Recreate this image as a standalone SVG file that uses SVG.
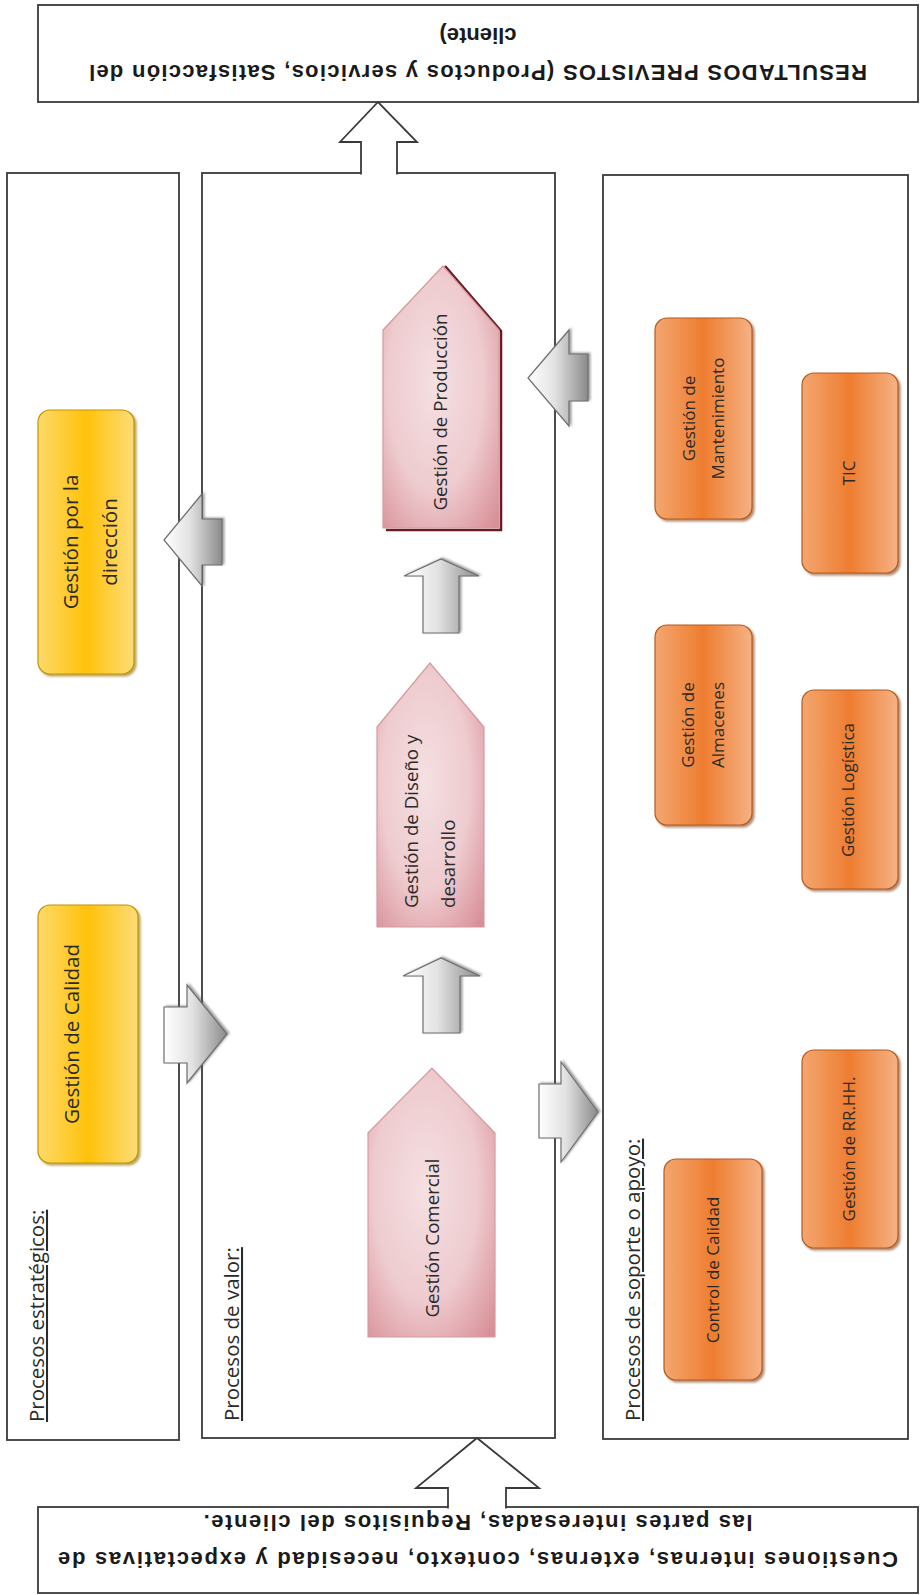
<svg xmlns="http://www.w3.org/2000/svg" width="921" height="1595" viewBox="0 0 921 1595">
<defs>
<style>
.box{fill:#ffffff;stroke:#3a3a3a;stroke-width:1.8}
.hollow{fill:#ffffff;stroke:#3a3a3a;stroke-width:1.8;stroke-linejoin:miter}
.big{font-family:"Liberation Sans",Arial,sans-serif;font-weight:bold;font-size:22px;fill:#1a1a1a;text-anchor:middle}
.lbl{font-family:"Open Sans","Noto Sans",sans-serif;font-size:20.5px;fill:#2a2a2a;text-decoration:underline}
.t-y{font-family:"Open Sans","Noto Sans",sans-serif;font-size:20.6px;fill:#2a2a2a;text-anchor:middle}
.t-p{font-family:"Open Sans","Noto Sans",sans-serif;font-size:18.7px;fill:#2a2a2a;text-anchor:middle}
.t-o{font-family:"Open Sans","Noto Sans",sans-serif;font-size:17px;fill:#2a2a2a;text-anchor:middle}
.yel{fill:url(#gY);stroke:#c39400;stroke-width:1.2;filter:url(#shY)}
.org{fill:url(#gO);stroke:#b65a1e;stroke-width:1.2;filter:url(#shO)}
.pnk{fill:url(#gP);stroke:#d49aa1;stroke-width:1.2}
.arr{fill:url(#gA);stroke:#6e6e6e;stroke-width:1.2;filter:url(#shA)}
</style>
<linearGradient id="gY" x1="0" y1="0" x2="1" y2="0">
<stop offset="0" stop-color="#fdd96a"/><stop offset="0.5" stop-color="#ffc20a"/><stop offset="1" stop-color="#fddc78"/>
</linearGradient>
<linearGradient id="gO" x1="0" y1="0" x2="1" y2="0">
<stop offset="0" stop-color="#f3a670"/><stop offset="0.5" stop-color="#ee7d30"/><stop offset="1" stop-color="#f5b285"/>
</linearGradient>
<radialGradient id="gP" cx="0.45" cy="0.45" r="0.75">
<stop offset="0" stop-color="#f5e0e2"/><stop offset="0.55" stop-color="#eecbcf"/><stop offset="1" stop-color="#d88e96"/>
</radialGradient>
<linearGradient id="gA" x1="0" y1="0" x2="1" y2="0">
<stop offset="0" stop-color="#ffffff"/><stop offset="0.45" stop-color="#e2e2e2"/><stop offset="1" stop-color="#8a8a8a"/>
</linearGradient>
<filter id="shY" x="-10%" y="-10%" width="130%" height="130%">
<feDropShadow dx="2" dy="2" stdDeviation="1" flood-color="#8a6a00" flood-opacity="0.6"/>
</filter>
<filter id="shO" x="-10%" y="-10%" width="130%" height="130%">
<feDropShadow dx="2" dy="2" stdDeviation="1" flood-color="#7a3a10" flood-opacity="0.6"/>
</filter>
<filter id="shA" x="-20%" y="-20%" width="140%" height="140%">
<feDropShadow dx="2" dy="-1" stdDeviation="0.8" flood-color="#555555" flood-opacity="0.55"/>
</filter>
</defs>

<rect width="921" height="1595" fill="#ffffff"/>

<g id="resultados">
<rect class="box" x="38" y="5" width="880" height="97"/>
<g transform="rotate(180 478 52)">
<text class="big" x="478" y="39" textLength="778" lengthAdjust="spacing">RESULTADOS PREVISTOS (Productos y servicios, Satisfacción del</text>
<text class="big" x="478" y="76">cliente)</text>
</g>
</g>

<g id="cuestiones">
<rect class="box" x="38" y="1507" width="880" height="86"/>
<g transform="rotate(180 478 1550)">
<text class="big" x="478" y="1548" textLength="840" lengthAdjust="spacing">Cuestiones internas, externas, contexto, necesidad y expectativas de</text>
<text class="big" x="478" y="1585" textLength="549" lengthAdjust="spacing">las partes interesadas, Requisitos del cliente.</text>
</g>
</g>

<g id="estrategicos">
<rect class="box" x="7" y="173" width="172" height="1267"/>
<text class="lbl" transform="translate(44 1422) rotate(-90)">Procesos estratégicos:</text>
</g>

<g id="valor">
<rect class="box" x="202" y="173" width="353" height="1265"/>
<text class="lbl" transform="translate(239 1421) rotate(-90)">Procesos de valor:</text>
</g>

<g id="soporte">
<rect class="box" x="603" y="175" width="305" height="1264"/>
<text class="lbl" transform="translate(640 1421) rotate(-90)">Procesos de soporte o apoyo:</text>
</g>

<g id="connectors">
<path class="hollow" d="M361,174.6 L361,142 L340,142 L378,102 L417,142 L397,142 L397,174.6"/>
<path class="hollow" d="M448,1508.6 L448,1488 L416,1488 L477,1438 L539,1488 L506,1488 L506,1508.6"/>
<polygon class="arr" points="222,519 202,519 202,494 164,540 202,586 202,565 222,565"/>
<polygon class="arr" points="164,1007 187,1007 187,985 227,1034 187,1083 187,1063 164,1063"/>
<polygon class="arr" points="423,1033 423,976 403,976 441,958 480,976 460,976 460,1033"/>
<polygon class="arr" points="423,633 423,576 404,576 441,559 479,576 459,576 459,633"/>
<polygon class="arr" points="588,354 569,354 569,330 528,378 569,426 569,401 588,401"/>
<polygon class="arr" points="539,1084 561,1084 561,1062 598,1112 561,1162 561,1138 539,1138"/>
</g>

<g id="gestion-direccion">
<rect class="yel" x="38" y="410" width="96" height="264" rx="12"/>
<text class="t-y" transform="translate(78 542) rotate(-90)">Gestión por la</text>
<text class="t-y" transform="translate(117 542) rotate(-90)">dirección</text>
</g>

<g id="gestion-calidad">
<rect class="yel" x="38" y="905" width="100" height="258" rx="12"/>
<text class="t-y" transform="translate(79 1034) rotate(-90)">Gestión de Calidad</text>
</g>

<g id="gestion-produccion">
<polyline points="445,266 501,331 501,530 386,530" fill="none" stroke="#6a1a20" stroke-width="2.5"/>
<polygon class="pnk" points="383,330 443,266 499,330 499,528 383,528"/>
<text class="t-p" transform="translate(447 412) rotate(-90)">Gestión de Producción</text>
</g>

<g id="gestion-diseno">
<polygon class="pnk" points="377,727 430,663 484,727 484,927 377,927"/>
<text class="t-p" style="text-anchor:start" transform="translate(418 908) rotate(-90)">Gestión de Diseño y</text>
<text class="t-p" style="text-anchor:start" transform="translate(455 908) rotate(-90)">desarrollo</text>
</g>

<g id="gestion-comercial">
<polygon class="pnk" points="368,1133 432,1068 495,1133 495,1337 368,1337"/>
<text class="t-p" transform="translate(439 1238) rotate(-90)">Gestión Comercial</text>
</g>

<g id="gestion-mantenimiento">
<rect class="org" x="655" y="318" width="97" height="201" rx="12"/>
<text class="t-o" transform="translate(695 418.5) rotate(-90)">Gestión de</text>
<text class="t-o" transform="translate(724 418.5) rotate(-90)">Mantenimiento</text>
</g>

<g id="tic">
<rect class="org" x="802" y="373" width="96" height="200" rx="12"/>
<text class="t-o" transform="translate(855 473) rotate(-90)">TIC</text>
</g>

<g id="gestion-almacenes">
<rect class="org" x="655" y="625" width="97" height="200" rx="12"/>
<text class="t-o" transform="translate(694 725) rotate(-90)">Gestión de</text>
<text class="t-o" transform="translate(724 725) rotate(-90)">Almacenes</text>
</g>

<g id="gestion-logistica">
<rect class="org" x="802" y="690" width="96" height="199" rx="12"/>
<text class="t-o" transform="translate(854 790) rotate(-90)">Gestión Logística</text>
</g>

<g id="gestion-rrhh">
<rect class="org" x="802" y="1050" width="96" height="198" rx="12"/>
<text class="t-o" transform="translate(855 1149) rotate(-90)">Gestión de RR.HH.</text>
</g>

<g id="control-calidad">
<rect class="org" x="664" y="1159" width="98" height="221" rx="12"/>
<text class="t-o" transform="translate(719 1270) rotate(-90)">Control de Calidad</text>
</g>
</svg>
